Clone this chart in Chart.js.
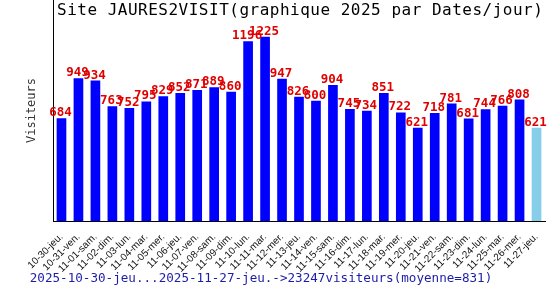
<!DOCTYPE html>
<html>
<head>
<meta charset="utf-8">
<script src="https://cdn.jsdelivr.net/npm/chart.js@4/dist/chart.umd.min.js"></script>
<style>
    body { margin: 0; background: #fff; }
</style>
</head>
<body>
<canvas id="visitChart" width="550" height="300"></canvas>
<script>
// Jours (axe x) et visiteurs par jour
const days = [
    "10-30-jeu.", "10-31-ven.", "11-01-sam.", "11-02-dim.", "11-03-lun.", "11-04-mar.",
    "11-05-mer.", "11-06-jeu.", "11-07-ven.", "11-08-sam.", "11-09-dim.", "11-10-lun.",
    "11-11-mar.", "11-12-mer.", "11-13-jeu.", "11-14-ven.", "11-15-sam.", "11-16-dim.",
    "11-17-lun.", "11-18-mar.", "11-19-mer.", "11-20-jeu.", "11-21-ven.", "11-22-sam.",
    "11-23-dim.", "11-24-lun.", "11-25-mar.", "11-26-mer.", "11-27-jeu."
];
const visitors = [
    684, 949, 934, 763, 752, 795, 829, 852, 871, 889, 860, 1196, 1225, 947, 826,
    800, 904, 745, 734, 851, 722, 621, 718, 781, 681, 744, 766, 808, 621
];

const chartTitle = "Site JAURES2VISIT(graphique 2025 par Dates/jour)";
const footerText = "2025-10-30-jeu...2025-11-27-jeu.->23247visiteurs(moyenne=831)";
const yLabel = "Visiteurs";

// le dernier jour (en cours) en bleu clair
const barColors = visitors.map((v, i) => i === visitors.length - 1 ? "#87ceeb" : "#0000ff");

const textPlugin = {
    id: "texts",
    afterDatasetsDraw(chart) {
        const ctx = chart.ctx;
        const meta = chart.getDatasetMeta(0);
        ctx.save();

        // valeurs au-dessus des barres
        ctx.font = 'bold 12.5px "DejaVu Sans Mono"';
        ctx.fillStyle = "#e00000";
        ctx.textAlign = "center";
        ctx.textBaseline = "alphabetic";
        meta.data.forEach((bar, i) => {
            ctx.fillText(String(visitors[i]), bar.x - 1, bar.y - 2);
        });

        // titre
        ctx.font = '16px "DejaVu Sans Mono"';
        ctx.letterSpacing = "0.5px";
        ctx.fillStyle = "#000";
        ctx.textAlign = "left";
        ctx.fillText(chartTitle, 57, 15);
        ctx.letterSpacing = "0px";

        // bas de page
        ctx.font = '12.6px "DejaVu Sans Mono"';
        ctx.fillStyle = "#1c1ca8";
        ctx.textAlign = "center";
        ctx.fillText(footerText, 261, 282);

        ctx.restore();
    }
};

const ctx = document.getElementById("visitChart").getContext("2d");

new Chart(ctx, {
    type: "bar",
    data: {
        labels: days,
        datasets: [{
            data: visitors,
            backgroundColor: barColors,
            barPercentage: 0.57,
            categoryPercentage: 1.0
        }]
    },
    options: {
        responsive: false,
        animation: false,
        layout: { padding: { top: 0, right: 5, bottom: 0, left: 0 } },
        plugins: {
            legend: { display: false },
            tooltip: { enabled: false }
        },
        scales: {
            x: {
                grid: { display: false },
                border: { display: true, color: "#000", width: 1 },
                ticks: {
                    autoSkip: false,
                    minRotation: 45,
                    maxRotation: 45,
                    padding: 2,
                    color: "#111",
                    font: { family: "Liberation Sans", size: 10 }
                },
                afterFit(scale) { scale.height = 79; }
            },
            y: {
                min: 0,
                max: Math.max(...visitors) * 1.2,
                grid: { display: false },
                border: { display: true, color: "#000", width: 1 },
                ticks: { display: false },
                title: {
                    display: true,
                    text: yLabel,
                    color: "#333",
                    font: { family: "DejaVu Sans Mono", size: 12 },
                    padding: { top: 25, bottom: 0 }
                },
                afterFit(scale) { scale.width = 53; }
            }
        }
    },
    plugins: [textPlugin]
});
</script>
</body>
</html>
